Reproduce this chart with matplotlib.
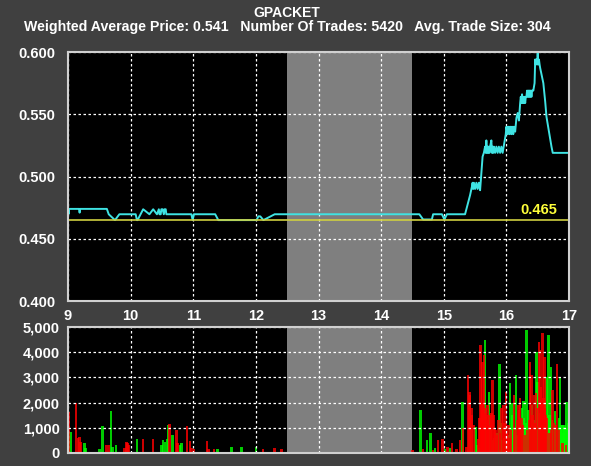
import matplotlib
matplotlib.use("Agg")
import matplotlib.pyplot as plt
from matplotlib.ticker import FuncFormatter

# Kursverlauf (Stunden, Preis)
price_t = [9.00, 9.01, 9.015, 9.02, 9.18, 9.185, 9.19, 9.62, 9.65, 9.75, 9.82, 10.08,
           10.10, 10.11, 10.20, 10.30, 10.36, 10.42, 10.45, 10.46, 10.48, 10.49, 10.51,
           10.53, 10.54, 10.56, 10.57, 10.60, 10.97, 10.99, 11.01, 11.35, 11.40, 12.01,
           12.04, 12.07, 12.12, 12.30, 14.61, 14.67, 14.81, 14.83, 14.97, 15.01, 15.05,
           15.34, 15.42, 15.45, 15.46, 15.47, 15.48, 15.50, 15.52, 15.54, 15.56, 15.58,
           15.62, 15.64, 15.66, 15.67, 15.68, 15.69, 15.70, 15.71, 15.72, 15.73, 15.74,
           15.76, 15.77, 15.78, 15.79, 15.80, 15.82, 15.84, 15.86, 15.88, 15.90, 15.92,
           15.94, 15.99, 16.00, 16.02, 16.03, 16.05, 16.06, 16.08, 16.09, 16.11, 16.12,
           16.14, 16.16, 16.18, 16.20, 16.22, 16.23, 16.24, 16.25, 16.26, 16.27, 16.28,
           16.29, 16.30, 16.31, 16.32, 16.33, 16.34, 16.35, 16.36, 16.37, 16.38, 16.39,
           16.40, 16.41, 16.43, 16.45, 16.46, 16.47, 16.48, 16.49, 16.50, 16.51, 16.52,
           16.53, 16.54, 16.59, 16.62, 16.64, 16.67, 16.72, 16.74, 17.00]
price_v = [0.474, 0.470, 0.474, 0.474, 0.474, 0.471, 0.474, 0.474, 0.4697, 0.465, 0.4697, 0.4697,
           0.465, 0.465, 0.4737, 0.4697, 0.4737, 0.4697, 0.4737, 0.4697, 0.4697, 0.4737, 0.4737,
           0.4697, 0.4737, 0.4737, 0.4697, 0.4697, 0.4697, 0.465, 0.4697, 0.4697, 0.465, 0.465,
           0.468, 0.468, 0.465, 0.4697, 0.4697, 0.4655, 0.4655, 0.4697, 0.4697, 0.4655, 0.4697,
           0.4697, 0.485, 0.492, 0.495, 0.490, 0.495, 0.490, 0.495, 0.490, 0.495, 0.489,
           0.516, 0.519, 0.524, 0.519, 0.529, 0.519, 0.524, 0.519, 0.524, 0.519, 0.524,
           0.529, 0.519, 0.524, 0.519, 0.524, 0.519, 0.524, 0.519, 0.524, 0.519, 0.524,
           0.519, 0.534, 0.540, 0.534, 0.540, 0.534, 0.540, 0.534, 0.540, 0.534, 0.540,
           0.536, 0.547, 0.551, 0.545, 0.559, 0.564, 0.559, 0.566, 0.559, 0.564, 0.559,
           0.564, 0.559, 0.564, 0.564, 0.569, 0.564, 0.569, 0.564, 0.569, 0.564, 0.569,
           0.564, 0.569, 0.569, 0.575, 0.594, 0.590, 0.594, 0.590, 0.600, 0.590, 0.594,
           0.590, 0.587, 0.575, 0.560, 0.548, 0.539, 0.524, 0.519, 0.519]

ref_price = 0.465

# Umsatz: fallende (rot) und steigende (gruen) Trades
red_t = [9.01, 9.13, 9.16, 9.18, 9.20, 9.61, 9.65, 9.90, 9.93, 9.95, 9.97, 10.20, 10.36,
         10.62, 10.73, 10.75, 10.90, 10.95, 10.97, 11.01, 11.22, 11.24, 11.33, 12.11, 12.30,
         12.41,
         14.50, 14.67, 14.83, 14.91, 14.98, 15.06, 15.13, 15.20, 15.26, 15.31, 15.36, 15.39,
         15.41, 15.42, 15.44, 15.45, 15.48, 15.55, 15.59, 15.60, 15.62, 15.64, 15.67, 15.69,
         15.71, 15.74, 15.76, 15.78, 15.80, 15.83, 15.85, 15.87, 15.92, 15.95, 15.97, 15.99,
         16.01, 16.03, 16.05, 16.12, 16.14, 16.17, 16.19, 16.21, 16.22, 16.24, 16.30, 16.33,
         16.38, 16.40, 16.42, 16.44, 16.46, 16.50, 16.52, 16.54, 16.56, 16.58, 16.61, 16.63,
         16.69, 16.74, 16.76, 16.81, 16.83, 16.90, 16.95,
         15.57, 15.61, 15.63, 15.65, 15.70, 15.73, 15.82, 15.90, 16.07, 16.20, 16.26, 16.36,
         16.47, 16.55, 16.59, 16.62, 16.65, 16.71, 16.79]
red_v = [1630, 1990, 600, 650, 450, 300, 300, 200, 450, 400, 300, 550, 550,
         1150, 900, 400, 1070, 480, 200, 150, 480, 150, 150, 150, 200,
         150,
         100, 150, 100, 500, 560, 250, 380, 150, 500, 1000, 250, 3100,
         2430, 2300, 1800, 1500, 1100, 560, 4280, 2000, 3620, 3900, 1800, 1500,
         1300, 1100, 1600, 2900, 1500, 900, 700, 1300, 1780, 1900, 1200, 2420,
         800, 1100, 600, 2300, 900, 1300, 1900, 1300, 2200, 1400, 700, 900,
         3620, 3100, 1500, 2300, 1200, 1800, 4420, 4100, 2000, 4750, 3800, 1500,
         800, 2500, 1200, 3550, 900, 400, 300,
         1400, 1700, 2000, 1600, 1900, 1500, 1000, 800, 900, 1700, 1100, 1300,
         2400, 2600, 2200, 1800, 1400, 900, 1100]

green_t = [9.04, 9.26, 9.28, 9.50, 9.55, 9.69, 9.71, 9.77, 10.10, 10.49, 10.52, 10.55,
           10.58, 10.60, 10.67, 10.79, 10.81, 11.39, 11.61, 11.77, 12.00,
           14.63, 14.73, 14.79, 14.86, 15.02, 15.10, 15.30, 15.51, 15.53, 15.57, 15.66,
           15.68, 15.72, 15.75, 15.81, 15.89, 15.91, 15.93, 16.00, 16.06, 16.09, 16.10,
           16.15, 16.18, 16.27, 16.28, 16.32, 16.35, 16.37, 16.45, 16.48, 16.50, 16.60,
           16.64, 16.67, 16.71, 16.73, 16.78, 16.80, 16.86, 16.88, 16.90, 16.92, 16.94,
           16.96, 16.98, 16.995,
           15.70, 15.79, 15.84, 15.96, 16.04, 16.13, 16.23, 16.25, 16.31, 16.41, 16.43,
           16.53, 16.57, 16.62, 16.69, 16.75, 16.84, 16.87, 16.91, 16.93, 16.97, 16.99]
green_v = [830, 400, 200, 150, 1070, 1660, 250, 300, 550, 300, 500, 450,
           550, 1110, 700, 300, 400, 150, 250, 250, 250,
           1700, 500, 780, 200, 150, 200, 2040, 1050, 300, 200, 4500,
           1200, 2430, 900, 600, 3530, 1200, 500, 400, 2770, 1500, 2000,
           3100, 700, 2050, 1400, 4880, 1700, 1000, 900, 4020, 2800, 1200,
           3000, 4680, 3400, 1300, 1650, 1000, 3030, 1100, 1100, 1050, 1000,
           2040, 1100, 1000,
           700, 500, 800, 600, 700, 1000, 900, 1800, 1200, 1900, 1300,
           1600, 1100, 2000, 1500, 900, 1400, 1000, 800, 1100, 1000, 1200]

title = "GPACKET"
subtitle = "Weighted Average Price: 0.541   Number Of Trades: 5420   Avg. Trade Size: 304"

bg = "#404040"
plt.rcParams["font.family"] = ["Liberation Sans", "DejaVu Sans"]
plt.rcParams["font.weight"] = "bold"

fig = plt.figure(figsize=(5.91, 4.66), dpi=100, facecolor=bg)
ax1 = fig.add_axes([0.1151, 0.354, 0.8477, 0.5344])
ax2 = fig.add_axes([0.1151, 0.0279, 0.8477, 0.2704])

fig.text(0.486, 0.973, title, color="white", fontsize=10, fontweight="bold",
         ha="center", va="center")
fig.text(0.486, 0.941, subtitle, color="white", fontsize=10.2, fontweight="bold",
         ha="center", va="center")

for ax in (ax1, ax2):
    ax.set_facecolor("black")
    ax.axvspan(12.5, 14.5, color="#7f7f7f", lw=0)
    ax.set_xlim(9, 17)
    ax.set_xticks(range(9, 18))
    ax.grid(True, color="white", linestyle=(0, (2, 2)), linewidth=0.9)
    for s in ax.spines.values():
        s.set_color("#d0d0d0")
        s.set_linewidth(1.5)
    ax.tick_params(colors="white", length=0, labelsize=10.5)

# Kurs
ax1.plot(price_t, price_v, color="#3fe3e3", lw=1.4)
ax1.axhline(ref_price, color="#cfcf40", lw=1.2)
ax1.text(16.52, 0.4735, f"{ref_price:.3f}", color="#ffff3a", fontsize=10.5,
         fontweight="bold", ha="center", va="center")
ax1.set_ylim(0.4, 0.6)
ax1.set_yticks([0.4, 0.45, 0.5, 0.55, 0.6])
ax1.yaxis.set_major_formatter(FuncFormatter(lambda v, p: f"{v:.3f}"))
ax1.tick_params(axis="y", pad=9)
ax1.tick_params(axis="x", pad=6)

# Volumen (gruen zuerst, rot drueber)
ax2.bar(green_t, green_v, width=0.04, color="#00ff00", alpha=0.8, lw=0)
ax2.bar(red_t, red_v, width=0.04, color="#ff0000", alpha=0.8, lw=0)
ax2.set_ylim(0, 5000)
ax2.set_yticks(range(0, 5001, 1000))
ax2.yaxis.set_major_formatter(FuncFormatter(lambda v, p: f"{int(v):,}"))
ax2.tick_params(axis="y", pad=6)
ax2.tick_params(axis="x", labelbottom=False)

fig.savefig("out.png", dpi=100, facecolor=bg)
